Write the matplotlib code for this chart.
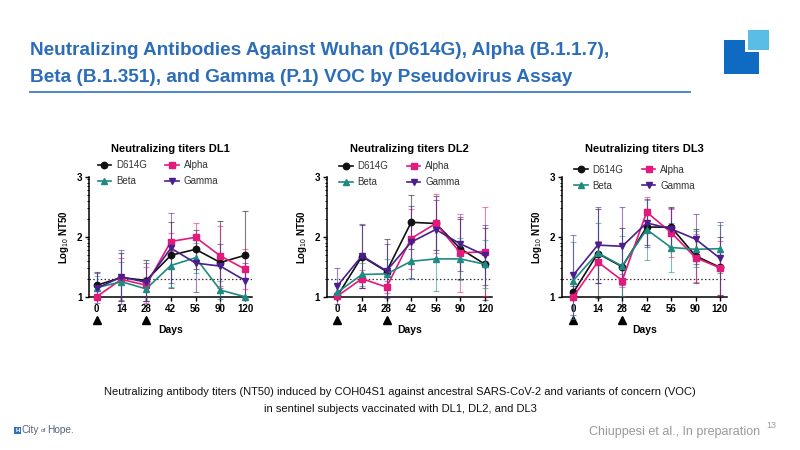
import numpy as np
import matplotlib
matplotlib.use("Agg")
import matplotlib.pyplot as plt
from matplotlib import font_manager
from matplotlib.patches import Rectangle
from matplotlib.lines import Line2D
import matplotlib.transforms as mtrans

# ---------------- data ----------------
days = ["0", "14", "28", "42", "56", "90", "120"]
dose_days = ["0", "28"]
variants = ["D614G", "Alpha", "Beta", "Gamma"]
panel_titles = ["Neutralizing titers DL1", "Neutralizing titers DL2", "Neutralizing titers DL3"]
lod = np.log10(20)

# mean log10 NT50
dl1_d614g = [1.19, 1.32, 1.27, 1.69, 1.79, 1.57, 1.69]
dl1_alpha = [1.00, 1.29, 1.19, 1.92, 1.99, 1.68, 1.46]
dl1_beta  = [1.15, 1.25, 1.13, 1.52, 1.65, 1.11, 1.00]
dl1_gamma = [1.14, 1.33, 1.24, 1.81, 1.56, 1.51, 1.27]

dl2_d614g = [1.01, 1.67, 1.42, 2.24, 2.22, 1.80, 1.54]
dl2_alpha = [1.01, 1.30, 1.16, 1.97, 2.22, 1.73, 1.75]
dl2_beta  = [1.07, 1.37, 1.38, 1.59, 1.63, 1.63, 1.54]
dl2_gamma = [1.18, 1.68, 1.43, 1.91, 2.12, 1.88, 1.69]

dl3_d614g = [1.07, 1.72, 1.50, 2.16, 2.16, 1.68, 1.49]
dl3_alpha = [1.00, 1.58, 1.27, 2.41, 2.07, 1.65, 1.48]
dl3_beta  = [1.27, 1.73, 1.51, 2.12, 1.82, 1.79, 1.80]
dl3_gamma = [1.36, 1.86, 1.84, 2.23, 2.13, 1.96, 1.64]

# standard deviations (log10)
dl1_d614g_sd = [0.22, 0.40, 0.34, 0.55, 0.32, 0.70, 0.74]
dl1_alpha_sd = [0.00, 0.35, 0.30, 0.15, 0.23, 0.50, 0.33]
dl1_beta_sd  = [0.20, 0.33, 0.20, 0.35, 0.25, 0.15, 0.00]
dl1_gamma_sd = [0.25, 0.45, 0.32, 0.58, 0.49, 0.36, 0.30]

dl2_d614g_sd = [0.05, 0.53, 0.55, 0.45, 0.45, 0.50, 0.60]
dl2_alpha_sd = [0.00, 0.15, 0.10, 0.50, 0.50, 0.65, 0.74]
dl2_beta_sd  = [0.10, 0.20, 0.25, 0.30, 0.53, 0.35, 0.40]
dl2_gamma_sd = [0.30, 0.53, 0.45, 0.60, 0.50, 0.45, 0.50]

dl3_d614g_sd = [0.10, 0.75, 0.65, 0.30, 0.33, 0.45, 0.50]
dl3_alpha_sd = [0.00, 0.35, 0.11, 0.25, 0.40, 0.40, 0.45]
dl3_beta_sd  = [0.65, 0.50, 0.50, 0.50, 0.40, 0.30, 0.40]
dl3_gamma_sd = [0.67, 0.63, 0.65, 0.40, 0.35, 0.42, 0.61]

panels = [
    [dl1_d614g, dl1_alpha, dl1_beta, dl1_gamma],
    [dl2_d614g, dl2_alpha, dl2_beta, dl2_gamma],
    [dl3_d614g, dl3_alpha, dl3_beta, dl3_gamma],
]
panels_sd = [
    [dl1_d614g_sd, dl1_alpha_sd, dl1_beta_sd, dl1_gamma_sd],
    [dl2_d614g_sd, dl2_alpha_sd, dl2_beta_sd, dl2_gamma_sd],
    [dl3_d614g_sd, dl3_alpha_sd, dl3_beta_sd, dl3_gamma_sd],
]

# ---------------- style ----------------
colors = {"D614G": "#111111", "Alpha": "#E3197B", "Beta": "#1E8A80", "Gamma": "#4B1E8E"}
markers = {"D614G": "o", "Alpha": "s", "Beta": "^", "Gamma": "v"}

avail = {f.name for f in font_manager.fontManager.ttflist}
base_font = "Liberation Sans" if "Liberation Sans" in avail else "DejaVu Sans"
narrow_font = "Liberation Sans Narrow" if "Liberation Sans Narrow" in avail else base_font
plt.rcParams["font.family"] = [base_font, "DejaVu Sans"]
plt.rcParams["mathtext.fontset"] = "custom"
plt.rcParams["mathtext.rm"] = base_font
plt.rcParams["mathtext.bf"] = base_font + ":bold"

W, H = 800, 450
fig = plt.figure(figsize=(8, 4.5), dpi=100)
fig.patch.set_facecolor("white")

def fx(px):
    return px / W

def fy(py):
    return 1 - py / H

# axes geometry in pixels: (left spine, x of first category, spacing)
geo = [(89.3, 96.7, 24.72), (326.7, 337.3, 24.62), (561.7, 573.3, 24.45)]
leg_pos = [(97.5, 160.0), (339.0, 161.0), (574.0, 164.5)]
y1_px, y3_px = 296.7, 176.7

minor_vals = [np.log10(k * 10 ** n) for n in (1, 2) for k in range(2, 10)]

for i, (left, x0, sp) in enumerate(geo):
    xmin = -(x0 - left) / sp
    xmax = 6.3
    right = x0 + xmax * sp
    ax = fig.add_axes([fx(left), fy(y1_px), (right - left) / W, (y1_px - y3_px) / H])
    xs = np.arange(len(days))
    for v, vals, sds in zip(variants, panels[i], panels_sd[i]):
        ax.errorbar(xs, vals, yerr=sds, color=colors[v], marker=markers[v],
                    markersize=4.6, linewidth=1.2, elinewidth=0.8, capsize=2.2,
                    capthick=0.8, ecolor=matplotlib.colors.to_rgba(colors[v], 0.55),
                    label=v, clip_on=False, zorder=3)
    ax.axhline(lod, color="#333333", linestyle=(0, (1.2, 1.8)), linewidth=0.9, zorder=1)
    ax.set_xlim(xmin, xmax)
    ax.set_ylim(1, 3)
    ax.set_xticks(xs)
    ax.set_xticklabels(days, fontsize=7, fontweight="bold")
    ax.set_yticks([1, 2, 3])
    ax.set_yticklabels(["1", "2", "3"], fontsize=7, fontweight="bold")
    ax.set_yticks(minor_vals, minor=True)
    ax.tick_params(axis="both", which="major", length=3, width=1.0, pad=2)
    ax.tick_params(axis="y", which="minor", length=1.8, width=0.7)
    for s in ("top", "right"):
        ax.spines[s].set_visible(False)
    for s in ("left", "bottom"):
        ax.spines[s].set_linewidth(1.1)
    ax.set_xlabel("Days", fontsize=7.5, fontweight="bold", labelpad=8)
    ax.set_ylabel(r"Log$_{10}$ NT50", fontsize=7, fontweight="bold", labelpad=4)
    ax.set_title(panel_titles[i], fontsize=8, fontweight="bold", pad=17.5)
    # dose arrows under x-axis
    trans = mtrans.blended_transform_factory(ax.transData, ax.transAxes)
    dose_idx = [days.index(d) for d in dose_days]
    ax.plot(dose_idx, [-0.19] * len(dose_idx), marker="^", linestyle="none",
            color="black", markersize=5.5, transform=trans, clip_on=False)
    # legend
    order = [0, 2, 1, 3]
    leg_handles = [Line2D([0], [0], color=colors[variants[k]], marker=markers[variants[k]],
                          markersize=4.6, linewidth=1.2) for k in order]
    ax.legend(leg_handles, [variants[k] for k in order], ncol=2, loc="upper left",
              bbox_to_anchor=(fx(leg_pos[i][0]), fy(leg_pos[i][1])),
              bbox_transform=fig.transFigure, frameon=False, fontsize=7,
              handlelength=1.4, handletextpad=0.5, columnspacing=1.9,
              labelspacing=0.62, borderpad=0, borderaxespad=0, labelcolor="#333333")

# ---------------- slide decorations ----------------
title_color = "#2C6DB9"
fig.text(fx(30), fy(55), "Neutralizing Antibodies Against Wuhan (D614G), Alpha (B.1.1.7),",
         fontsize=13.7, fontweight="bold", color=title_color, va="baseline", ha="left",
         family=narrow_font)
fig.text(fx(30), fy(81.7), "Beta (B.1.351), and Gamma (P.1) VOC by Pseudovirus Assay",
         fontsize=13.7, fontweight="bold", color=title_color, va="baseline", ha="left",
         family=narrow_font)
fig.add_artist(Line2D([fx(30), fx(690)], [fy(92), fy(92)], color="#3D7DC6", linewidth=1.3))

fig.add_artist(Rectangle((fx(724), fy(74)), fx(35), 34 / H, color="#0F6AC2", lw=0))
fig.add_artist(Rectangle((fx(745), fy(52)), fx(25), 24 / H, color="white", lw=0))
fig.add_artist(Rectangle((fx(748), fy(49.5)), fx(21), 20 / H, color="#5ABDE6", lw=0))

fig.text(0.5, fy(392), "Neutralizing antibody titers (NT50) induced by COH04S1 against ancestral "
         "SARS-CoV-2 and variants of concern (VOC)", fontsize=8, ha="center", va="center",
         color="#111111", family=narrow_font)
fig.text(0.5, fy(409), "in sentinel subjects vaccinated with DL1, DL2, and DL3", fontsize=8,
         ha="center", va="center", color="#111111", family=narrow_font)

fig.text(fx(760), fy(432), "Chiuppesi et al., In preparation", fontsize=9, ha="right",
         va="center", color="#9A9A9A", family=narrow_font)
fig.text(fx(766), fy(426), "13", fontsize=6.5, ha="left", va="center", color="#9A9A9A")

fig.add_artist(Rectangle((fx(14.5), fy(434)), fx(6.5), 7.5 / H, color="#3170BE", lw=0))
fig.text(fx(17.75), fy(430.2), "H", fontsize=4.5, ha="center", va="center", color="white",
         fontweight="bold")
fig.text(fx(21.5), fy(430), "City", fontsize=7.3, ha="left", va="center", color="#55657D")
fig.text(fx(40.5), fy(430.8), "of", fontsize=4.5, ha="left", va="center", color="#55657D")
fig.text(fx(47.5), fy(430), "Hope.", fontsize=7.3, ha="left", va="center", color="#55657D")

fig.savefig("out.png", dpi=100, facecolor="white")
